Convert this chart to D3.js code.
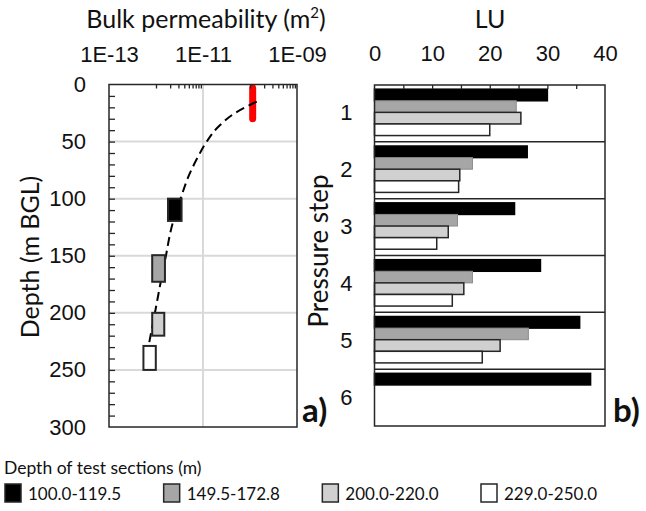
<!DOCTYPE html>
<html>
<head>
<meta charset="utf-8">
<script src="https://cdn.jsdelivr.net/npm/d3@7"></script>
<style>
  body { margin: 0; background: #fff; }
  svg { display: block; font-family: Lato, "Open Sans", sans-serif; }
  .axis path.domain { display: none; }
  .axis text { fill: #111; }
</style>
</head>
<body>
<svg id="chart" width="646" height="511"></svg>
<script>
// ---- Data ----
// Test sections (legend order)
const sections = ["100.0-119.5", "149.5-172.8", "200.0-220.0", "229.0-250.0"];
const sectionTop = [100.0, 149.5, 200.0, 229.0];
const sectionBottom = [119.5, 172.8, 220.0, 250.0];
const sectionFill = ["#000000", "#a6a6a6", "#d0d0d0", "#ffffff"];

// Bulk permeability range of each test section (m^2)
const permMin = [1.8e-12, 8.3e-13, 8.3e-13, 5.4e-13];
const permMax = [3.5e-12, 1.55e-12, 1.5e-12, 9.9e-13];

// Shallow test interval (red)
const shallowPerm = 1.14e-10;
const shallowTop = 3;
const shallowBottom = 30;

// Permeability-depth trend (dashed)
const trendDepth = [15, 25, 37, 50, 63, 81, 97, 124.5, 151, 176, 196, 227];
const trendPerm = [1.39e-10, 4.8e-11, 2.12e-11, 1.2e-11, 7.9e-12, 4.86e-12,
                   3.52e-12, 2.16e-12, 1.61e-12, 1.22e-12, 9.9e-13, 7.1e-13];

// Panel a) axis ticks
const permTicks = [1e-13, 1e-11, 1e-9];
const depthTicks = [0, 50, 100, 150, 200, 250, 300];

// Panel b) LU per pressure step, one list per test section
const steps = ["1", "2", "3", "4", "5", "6"];
const lu100 = [30.0, 26.5, 24.3, 28.8, 35.6, 37.5];
const lu150 = [24.6, 17.0, 14.4, 17.0, 26.7, null];
const lu200 = [25.4, 14.8, 12.8, 15.5, 21.8, null];
const lu229 = [20.0, 14.6, 10.8, 13.5, 18.7, null];
const luTicks = [0, 10, 20, 30, 40];

// ---- Chart ----
const svg = d3.select("#chart");
const ink = "#111";
const frame = "#262626";
const grid = "#d9d9d9";
const tickFont = 22;
const titleFont = 25;

svg.append("rect").attr("width", 646).attr("height", 511).attr("fill", "#fff");

// ===== Panel a) =====
const kx = d3.scaleLog().domain([1e-13, 1e-9]).range([109, 297]);
const dy = d3.scaleLinear().domain([0, 300]).range([84.5, 427]);

const pa = svg.append("g");

// gridlines
pa.selectAll("line.hgrid")
  .data(depthTicks.filter(d => d > 0 && d < 300))
  .join("line")
  .attr("x1", kx.range()[0]).attr("x2", kx.range()[1])
  .attr("y1", d => dy(d)).attr("y2", d => dy(d))
  .attr("stroke", grid).attr("stroke-width", 2);
pa.append("line")
  .attr("x1", kx(1e-11)).attr("x2", kx(1e-11))
  .attr("y1", dy.range()[0]).attr("y2", dy.range()[1])
  .attr("stroke", grid).attr("stroke-width", 2);

// shallow interval
pa.append("line")
  .attr("x1", kx(shallowPerm)).attr("x2", kx(shallowPerm))
  .attr("y1", dy(shallowTop)).attr("y2", dy(shallowBottom))
  .attr("stroke", "#ff0000").attr("stroke-width", 7)
  .attr("stroke-linecap", "round");

// trend line
const trend = trendDepth.map((d, i) => ({ depth: d, perm: trendPerm[i] }));
pa.append("path")
  .datum(trend)
  .attr("fill", "none")
  .attr("stroke", "#000")
  .attr("stroke-width", 2)
  .attr("stroke-dasharray", "9,5")
  .attr("d", d3.line().x(d => kx(d.perm)).y(d => dy(d.depth)).curve(d3.curveMonotoneY));

// test-section boxes
const boxes = sections.map((s, i) => ({
  name: s, top: sectionTop[i], bottom: sectionBottom[i],
  kmin: permMin[i], kmax: permMax[i], fill: sectionFill[i]
}));
pa.selectAll("rect.box")
  .data(boxes)
  .join("rect")
  .attr("x", d => kx(d.kmin))
  .attr("width", d => kx(d.kmax) - kx(d.kmin))
  .attr("y", d => dy(d.top))
  .attr("height", d => dy(d.bottom) - dy(d.top))
  .attr("fill", d => d.fill)
  .attr("stroke", frame).attr("stroke-width", 2);

// frame
pa.append("rect")
  .attr("x", kx.range()[0]).attr("y", dy.range()[0])
  .attr("width", kx.range()[1] - kx.range()[0])
  .attr("height", dy.range()[1] - dy.range()[0])
  .attr("fill", "none").attr("stroke", frame).attr("stroke-width", 1.5);

// top minor ticks (inward)
const minorPerm = [];
[1e-12, 1e-10].forEach(b => d3.range(1, 10).forEach(k => minorPerm.push(k * b)));
pa.append("g").attr("class", "axis")
  .attr("transform", `translate(0,${dy.range()[0]})`)
  .call(d3.axisBottom(kx).tickValues(minorPerm).tickSize(4).tickFormat(""))
  .call(g => g.selectAll("line").attr("stroke", frame).attr("stroke-width", 1.3));

// top labels
pa.append("g").attr("class", "axis")
  .attr("transform", `translate(0,${dy.range()[0]})`)
  .call(d3.axisTop(kx).tickValues(permTicks).tickSize(0).tickPadding(23)
        .tickFormat(d => {
          const e = Math.round(Math.log10(d));
          return "1E-" + String(-e).padStart(2, "0");
        }))
  .call(g => g.selectAll("text").attr("font-size", tickFont));

// left minor ticks (inward)
pa.append("g").attr("class", "axis")
  .attr("transform", `translate(${kx.range()[0]},0)`)
  .call(d3.axisRight(dy).tickValues(d3.range(10, 300, 10)).tickSize(6).tickFormat(""))
  .call(g => g.selectAll("line").attr("stroke", frame).attr("stroke-width", 1.3));

// left labels
pa.append("g").attr("class", "axis")
  .attr("transform", `translate(${kx.range()[0]},0)`)
  .call(d3.axisLeft(dy).tickValues(depthTicks).tickSize(0).tickPadding(23))
  .call(g => g.selectAll("text").attr("font-size", tickFont));

// titles
const t1 = svg.append("text")
  .attr("x", 206).attr("y", 28)
  .attr("text-anchor", "middle")
  .attr("font-size", titleFont).attr("fill", ink);
t1.append("tspan").text("Bulk permeability (m");
t1.append("tspan").attr("font-size", 15).attr("dy", -10).text("2");
t1.append("tspan").attr("dy", 10).text(")");

svg.append("text")
  .attr("transform", "translate(39,257) rotate(-90)")
  .attr("text-anchor", "middle")
  .attr("font-size", titleFont).attr("fill", ink)
  .text("Depth (m BGL)");

svg.append("text")
  .attr("x", 302).attr("y", 422)
  .attr("font-size", 33).attr("font-weight", "bold").attr("fill", ink)
  .text("a)");

// ===== Panel b) =====
const lx = d3.scaleLinear().domain([0, 40]).range([374.5, 605]);
const sy = d3.scaleBand().domain(steps).range([85, 426]);
const sub = d3.scaleBand().domain(sections).range([0, sy.bandwidth()])
  .paddingOuter(0.45).align(0.4);

const pb = svg.append("g");
const luSeries = [lu100, lu150, lu200, lu229];
const barStroke = ["#000000", "#8c8c8c", frame, frame];

const barData = [];
steps.forEach((s, i) => {
  sections.forEach((sec, j) => {
    const v = luSeries[j][i];
    if (v != null) barData.push({ step: s, sec, v, j });
  });
});

pb.selectAll("rect.bar")
  .data(barData)
  .join("rect")
  .attr("x", lx(0))
  .attr("y", d => sy(d.step) + sub(d.sec))
  .attr("width", d => lx(d.v) - lx(0))
  .attr("height", sub.bandwidth())
  .attr("fill", d => sectionFill[d.j])
  .attr("stroke", d => barStroke[d.j])
  .attr("stroke-width", d => d.j === 1 ? 1 : 1.5);

// step separators
pb.selectAll("line.sep")
  .data(steps.slice(1))
  .join("line")
  .attr("x1", lx.range()[0]).attr("x2", lx.range()[1])
  .attr("y1", d => sy(d)).attr("y2", d => sy(d))
  .attr("stroke", frame).attr("stroke-width", 1.5);

// frame
pb.append("rect")
  .attr("x", lx.range()[0]).attr("y", sy.range()[0])
  .attr("width", lx.range()[1] - lx.range()[0])
  .attr("height", sy.range()[1] - sy.range()[0])
  .attr("fill", "none").attr("stroke", frame).attr("stroke-width", 1.5);

// top minor ticks (inward)
pb.append("g").attr("class", "axis")
  .attr("transform", `translate(0,${sy.range()[0]})`)
  .call(d3.axisBottom(lx).tickValues(d3.range(5, 40, 5)).tickSize(4).tickFormat(""))
  .call(g => g.selectAll("line").attr("stroke", frame).attr("stroke-width", 1.3));

// top labels
pb.append("g").attr("class", "axis")
  .attr("transform", `translate(0,${sy.range()[0]})`)
  .call(d3.axisTop(lx).tickValues(luTicks).tickSize(0).tickPadding(24))
  .call(g => g.selectAll("text").attr("font-size", tickFont));

// step labels
pb.append("g").attr("class", "axis")
  .attr("transform", `translate(${lx.range()[0]},0)`)
  .call(d3.axisLeft(sy).tickSize(0).tickPadding(22))
  .call(g => g.selectAll("text").attr("font-size", tickFont));

svg.append("text")
  .attr("x", 490).attr("y", 28)
  .attr("text-anchor", "middle")
  .attr("font-size", titleFont).attr("fill", ink)
  .text("LU");

svg.append("text")
  .attr("transform", "translate(328,251) rotate(-90)")
  .attr("text-anchor", "middle")
  .attr("font-size", 26).attr("fill", ink)
  .text("Pressure step");

svg.append("text")
  .attr("x", 613).attr("y", 422)
  .attr("font-size", 33).attr("font-weight", "bold").attr("fill", ink)
  .text("b)");

// ===== Legend =====
const lg = svg.append("g");
lg.append("text")
  .attr("x", 4).attr("y", 474)
  .attr("font-size", 17.5).attr("fill", ink)
  .text("Depth of test sections (m)");

const lgx = d3.scalePoint().domain(sections).range([5, 481]);
const item = lg.selectAll("g.item")
  .data(sections)
  .join("g")
  .attr("transform", d => `translate(${lgx(d)},484)`);
item.append("rect")
  .attr("width", 16).attr("height", 18)
  .attr("fill", (d, i) => sectionFill[i])
  .attr("stroke", frame).attr("stroke-width", 1.5);
item.append("text")
  .attr("x", 23).attr("y", 15.5)
  .attr("font-size", 17).attr("fill", ink)
  .text(d => d);
</script>
</body>
</html>
